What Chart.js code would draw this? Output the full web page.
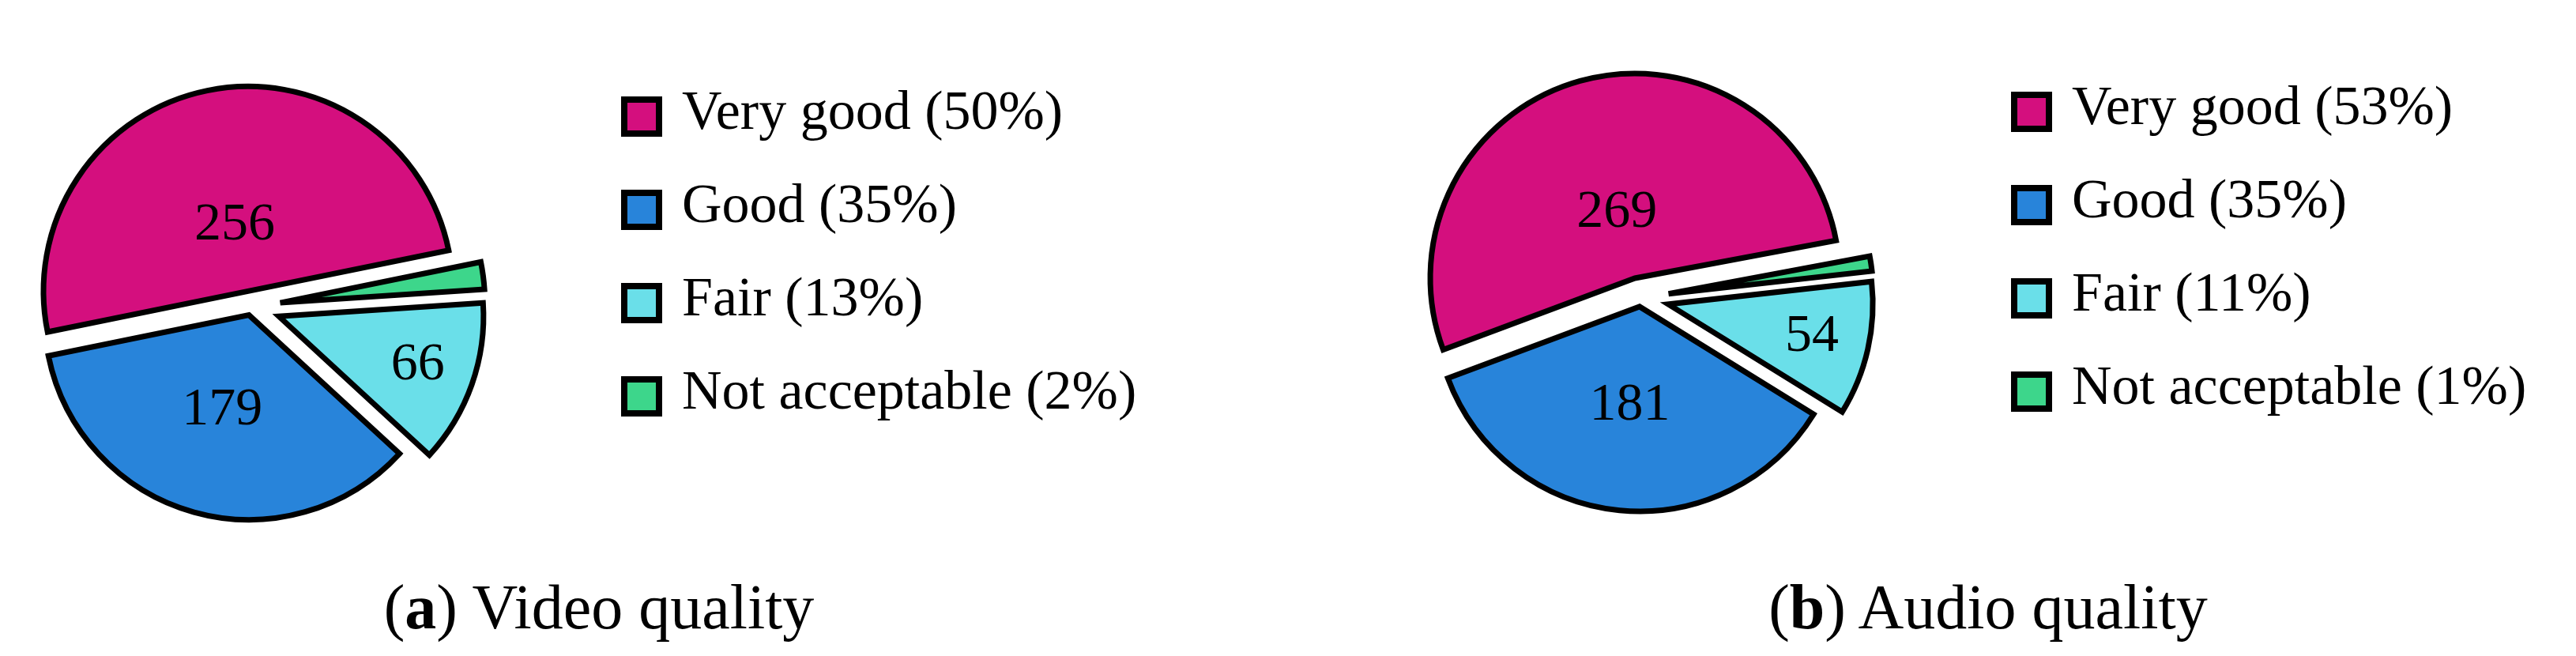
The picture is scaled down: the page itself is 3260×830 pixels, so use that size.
<!DOCTYPE html>
<html>
<head>
<meta charset="utf-8">
<title>Video and audio quality</title>
<script src="https://cdn.jsdelivr.net/npm/chart.js@4.4.1/dist/chart.umd.min.js"></script>
<style>
  html, body { margin: 0; padding: 0; background: #fff; }
  body {
    width: 3260px; height: 830px; position: relative; overflow: hidden;
    font-family: 'Liberation Serif', 'DejaVu Serif', serif; color: #000;
  }
  .pie { position: absolute; width: 640px; height: 640px; }
  .legend-row { position: absolute; height: 52px; }
  .legend-box {
    position: absolute; left: 0; top: 0; width: 52px; height: 51px;
    box-sizing: border-box; border: 8px solid #000;
  }
  .legend-text {
    position: absolute; left: 77px; top: -17px; font-size: 70px; line-height: 70px;
    white-space: nowrap;
  }
  .caption {
    position: absolute; width: 900px; text-align: center; font-size: 80px; line-height: 80px;
    white-space: nowrap;
  }
</style>
</head>
<body>
<canvas id="videoPie" class="pie" width="640" height="640" style="left:-2px; top:68px;"></canvas>
<canvas id="audioPie" class="pie" width="640" height="640" style="left:1756px; top:57px;"></canvas>
<div id="videoLegend"></div>
<div id="audioLegend"></div>
<div class="caption" style="left:308px; top:728px;">(<b>a</b>) Video quality</div>
<div class="caption" style="left:2066px; top:728px;">(<b>b</b>) Audio quality</div>

<script>
// ── Data ──────────────────────────────────────
const categories  = ['Very good', 'Good', 'Fair', 'Not acceptable'];
const videoCounts = [256, 179, 66, 11];
const audioCounts = [269, 181, 54, 6];

// ── Style ─────────────────────────────────────
const sliceColors = ['#d40f7e', '#2884da', '#6adfe9', '#3dd68b'];
const labelFrac   = [0.33, 0.485, 0.72, 0.72]; // label distance, share of radius
const drawOrder   = [3, 2, 1, 0];              // clockwise round the pie

function makePie(canvasId, counts, rotation, explodePx) {
  const dist = drawOrder.map(i => explodePx[i]);
  const frac = drawOrder.map(i => labelFrac[i]);

  // draw each arc pulled out along its middle angle
  const explode = {
    id: 'explode',
    beforeDatasetDraw(chart, args) {
      const ctx = chart.ctx;
      args.meta.data.forEach((arc, i) => {
        const mid = (arc.startAngle + arc.endAngle) / 2;
        ctx.save();
        ctx.translate(Math.cos(mid) * dist[i], Math.sin(mid) * dist[i]);
        arc.draw(ctx);
        ctx.restore();
      });
      return false;
    }
  };

  // counts written inside the bigger slices
  const sliceLabels = {
    id: 'sliceLabels',
    afterDatasetsDraw(chart) {
      const ctx = chart.ctx;
      const meta = chart.getDatasetMeta(0);
      const values = chart.data.datasets[0].data;
      const total = values.reduce((a, b) => a + b, 0);
      ctx.save();
      ctx.font = '68px "Liberation Serif", serif';
      ctx.fillStyle = '#000';
      ctx.textAlign = 'center';
      ctx.textBaseline = 'middle';
      meta.data.forEach((arc, i) => {
        if (values[i] / total < 0.05) return;
        const mid = (arc.startAngle + arc.endAngle) / 2;
        const d = dist[i] + frac[i] * arc.outerRadius;
        ctx.fillText(String(values[i]), arc.x + Math.cos(mid) * d, arc.y + Math.sin(mid) * d);
      });
      ctx.restore();
    }
  };

  return new Chart(document.getElementById(canvasId), {
    type: 'pie',
    data: {
      labels: drawOrder.map(i => categories[i]),
      datasets: [{
        data: drawOrder.map(i => counts[i]),
        backgroundColor: drawOrder.map(i => sliceColors[i]),
        borderColor: '#000',
        borderWidth: 7,
        borderJoinStyle: 'miter',
        offset: 0,
        hoverOffset: 0
      }]
    },
    options: {
      responsive: false,
      animation: false,
      devicePixelRatio: 1,
      events: [],
      radius: 259,
      rotation: rotation,
      layout: { padding: 0 },
      plugins: { legend: { display: false }, tooltip: { enabled: false } }
    },
    plugins: [explode, sliceLabels]
  });
}

// ── Legend ────────────────────────────────────
function makeLegend(holderId, counts, left, top, step) {
  const holder = document.getElementById(holderId);
  const total = counts.reduce((a, b) => a + b, 0);
  categories.forEach((name, i) => {
    const row = document.createElement('div');
    row.className = 'legend-row';
    row.style.left = left + 'px';
    row.style.top = (top + i * step) + 'px';
    const box = document.createElement('div');
    box.className = 'legend-box';
    box.style.background = sliceColors[i];
    const txt = document.createElement('div');
    txt.className = 'legend-text';
    txt.textContent = `${name} (${Math.round(counts[i] / total * 100)}%)`;
    row.appendChild(box);
    row.appendChild(txt);
    holder.appendChild(row);
  });
}

makePie('videoPie', videoCounts, 78.5, [20, 11, 37, 37]);
makePie('audioPie', audioCounts, 79.4, [26, 11, 36, 36]);
makeLegend('videoLegend', videoCounts, 786, 122, 118.1);
makeLegend('audioLegend', audioCounts, 2545, 116, 118);
</script>
</body>
</html>
